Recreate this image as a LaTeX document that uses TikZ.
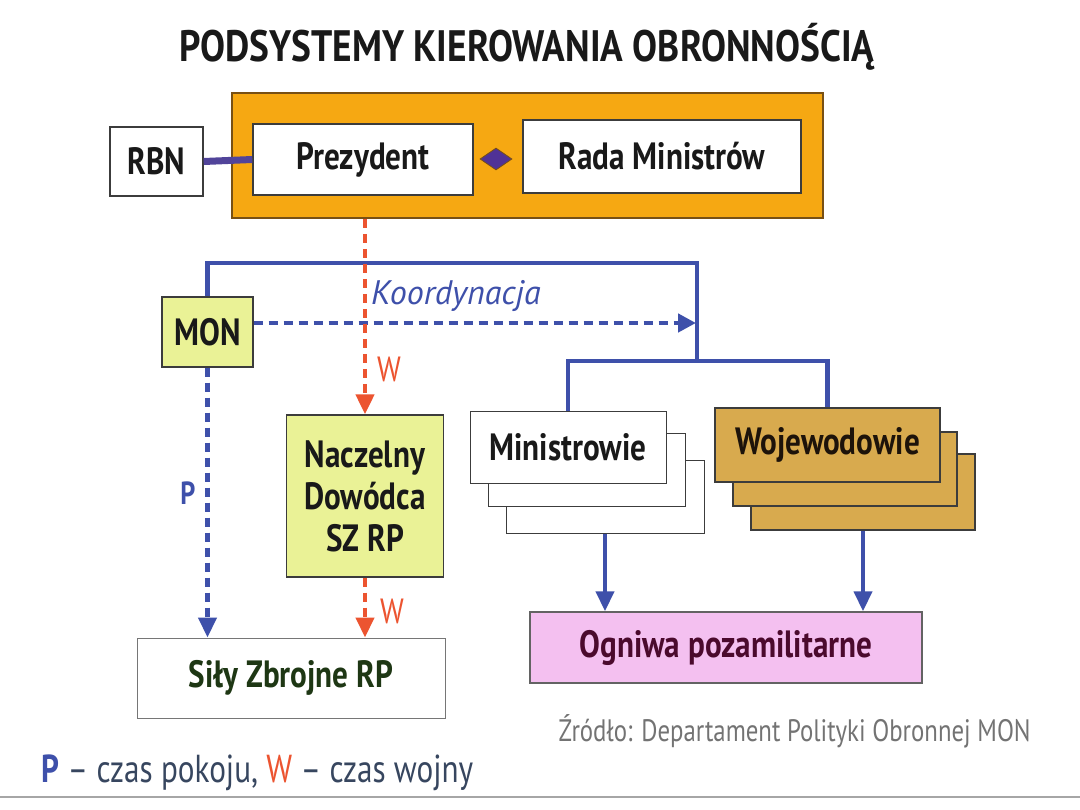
\documentclass[tikz,border=0pt]{standalone}
\usepackage{fontspec}
\newfontfamily\cf[FakeStretch=0.82]{PT Sans}
\newfontfamily\cft[FakeStretch=0.85]{PT Sans}
\newfontfamily\cfs[FakeStretch=0.8]{PT Sans}
\newfontfamily\cfk{PT Sans}
\usetikzlibrary{arrows.meta,shapes.geometric}
\definecolor{orangefill}{RGB}{246,168,18}
\definecolor{orangeedge}{RGB}{120,80,20}
\definecolor{bl}{RGB}{62,80,170}
\definecolor{rd}{RGB}{236,84,48}
\definecolor{ygreen}{RGB}{234,242,150}
\definecolor{gold}{RGB}{216,170,78}
\definecolor{pinkf}{RGB}{244,192,240}
\definecolor{edge}{RGB}{60,60,60}
\definecolor{txt}{RGB}{25,25,25}
\definecolor{dgreen}{RGB}{30,55,20}
\definecolor{maroon}{RGB}{75,10,45}
\definecolor{dia}{RGB}{80,50,150}
\definecolor{legtxt}{RGB}{55,70,95}
\tikzset{
  box/.style={draw=edge, line width=1.4pt, fill=white, inner sep=0pt, align=center,
    font=\cf\bfseries\fontsize{38}{42}\selectfont, text=txt},
  blueline/.style={draw=bl, line width=4.5pt},
  bluedash/.style={draw=bl, line width=4.5pt, dash pattern=on 9pt off 6pt},
  reddash/.style={draw=rd, line width=4.5pt, dash pattern=on 9pt off 6pt},
  btip/.style={-{Triangle[length=20pt,width=18pt]}},
}
\begin{document}
\begin{tikzpicture}[x=1pt,y=-1pt]
\useasboundingbox (0,0) rectangle (1080,810);
\fill[white] (0,0) rectangle (1080,810);
% title
\node[font=\cft\bfseries\fontsize{44}{50}\selectfont, text=txt] (title) at (527,47) {PODSYSTEMY KIEROWANIA OBRONNOŚCIĄ};
% top frame
\node[draw=orangeedge, line width=1.6pt, fill=orangefill, minimum width=591pt, minimum height=125pt] (frame) at (527.5,155.5) {};
\node[box, minimum width=93pt, minimum height=69pt] (rbn) at (156.5,161.5) {RBN};
\node[box, minimum width=220pt, minimum height=71pt] (prez) at (363,159.5) {Prezydent};
\node[box, minimum width=278pt, minimum height=73pt] (rada) at (662,156.5) {Rada Ministrów};
\node[diamond, fill=dia, draw=orangeedge, line width=0.8pt, minimum width=32pt, minimum height=22pt, inner sep=0pt] (dm) at (496,159) {};
\draw[draw=bl!85!purple, line width=7pt] (rbn.east) -- (prez.west);
% coordinates
\coordinate (tr) at (697,263);
\coordinate (j) at (697,361);
\coordinate (kend) at (696,323);
% MON
\node[box, fill=ygreen, minimum width=91pt, minimum height=70pt] (mon) at (207.5,332) {MON};
% Naczelny
\node[box, fill=ygreen, minimum width=157pt, minimum height=162pt] (nacz) at (365,496) {Naczelny\\Dowódca\\SZ RP};
% Sily
\node[box, draw=edge!70, line width=1pt, minimum width=308pt, minimum height=80pt, text=dgreen] (sily) at (291,678) {Siły Zbrojne RP};
% Ministrowie stack
\node[box, line width=1pt, minimum width=198pt, minimum height=72pt] (min3) at (605,497) {};
\node[box, line width=1pt, minimum width=197pt, minimum height=72pt] (min2) at (586.5,470) {};
\node[box, line width=1pt, minimum width=196pt, minimum height=71pt] (min1) at (568,447.5) {Ministrowie};
% Wojewodowie stack
\node[box, fill=gold, minimum width=224pt, minimum height=76pt] (woj3) at (863,492) {};
\node[box, fill=gold, minimum width=224pt, minimum height=74pt] (woj2) at (845,469) {};
\node[box, fill=gold, minimum width=225pt, minimum height=74pt, text=black!85!brown] (woj1) at (827.5,445) {Wojewodowie};
% Ogniwa
\node[box, fill=pinkf, draw=edge!80, minimum width=392pt, minimum height=71pt, text=maroon] (ogn) at (726,647.5) {Ogniwa pozamilitarne};
% blue tree
\draw[blueline] (mon.north) |- (tr) -- (j);
\draw[blueline] (min1.north) |- (j) -| (woj1.north);
% koordynacja
\draw[bluedash, -{Triangle[length=18pt,width=18pt]}] ([yshift=9pt]mon.east) -- (kend);
\node[font=\cfk\itshape\fontsize{34}{38}\selectfont, text=bl] (koord) at (456,296) {Koordynacja};
% red dashed W
\draw[reddash, -{Triangle[length=20pt,width=18pt]}] (frame.south -| nacz.north) -- (nacz.north);
\node[font=\cf\fontsize{35}{38}\selectfont, text=rd] (w1) at (389,369) {W};
\draw[reddash, -{Triangle[length=20pt,width=18pt]}] (nacz.south) -- (nacz.south |- sily.north);
\node[font=\cf\fontsize{35}{38}\selectfont, text=rd] (w2) at (392,611) {W};
% P
\draw[bluedash, -{Triangle[length=20pt,width=18pt]}] (mon.south) -- (mon.south |- sily.north);
\node[font=\cf\bfseries\fontsize{32}{36}\selectfont, text=bl] (p) at (188,493) {P};
% arrows to Ogniwa
\draw[draw=bl, line width=4pt, btip] (min3.south) -- (min3.south |- ogn.north);
\draw[draw=bl, line width=4pt, btip] (woj3.south) -- (woj3.south |- ogn.north);
% source
\node[font=\cfs\fontsize{31}{34}\selectfont, text=black!55, anchor=west] (src) at (555,731) {Źródło: Departament Polityki Obronnej MON};
% legend
\node[font=\cfs\fontsize{39}{42}\selectfont, text=legtxt, anchor=west] (leg) at (38,773) {{\bfseries\color{bl}P} – czas pokoju, {\color{rd}W} – czas wojny};
\draw[draw=black!35, line width=2pt] (0,797) -- (1080,797);
\end{tikzpicture}
\end{document}
